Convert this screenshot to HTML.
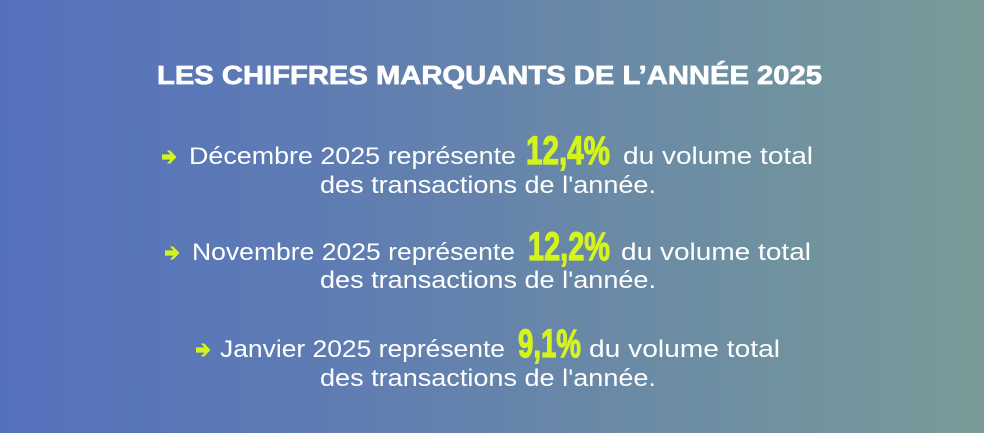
<!DOCTYPE html>
<html>
<head>
<meta charset="utf-8">
<style>
  html, body { margin:0; padding:0; }
  body { width:984px; height:433px; overflow:hidden;
    background: linear-gradient(90deg, #5571be 0%, #5d7bb4 30%, #6786a9 55%, #6f91a0 78%, #789b98 100%); }
  svg { display:block; }
  .t { font-family:"Liberation Sans", sans-serif; fill:#ffffff; }
  .title { font-weight:bold; font-size:26px; stroke:#ffffff; stroke-width:0.7px; }
  .body { font-size:24px; }
  .num { font-weight:bold; font-size:40px; fill:#d5f41c; stroke:#d5f41c; stroke-width:1.2px; }
</style>
</head>
<body>
<svg width="984" height="433" viewBox="0 0 984 433" xmlns="http://www.w3.org/2000/svg">
  <defs>
    <path id="arr" d="M0,-2.6 L8.5,-2.6 L4.8,-6.5 L8.2,-6.5 L14.5,0 L8.2,6.5 L4.8,6.5 L8.5,2.6 L0,2.6 Z" fill="#d5f41c"/>
  </defs>

  <text class="t title" x="157" y="84" textLength="665" lengthAdjust="spacingAndGlyphs">LES CHIFFRES MARQUANTS DE L’ANNÉE 2025</text>

  <!-- Block 1 -->
  <use href="#arr" x="162" y="157"/>
  <text class="t body" x="189" y="164" textLength="327" lengthAdjust="spacingAndGlyphs">Décembre 2025 représente</text>
  <text class="t num" x="526" y="164" textLength="84" lengthAdjust="spacingAndGlyphs">12,4%</text>
  <text class="t body" x="623" y="164" textLength="190" lengthAdjust="spacingAndGlyphs">du volume total</text>
  <text class="t body" x="320" y="193" textLength="336" lengthAdjust="spacingAndGlyphs">des transactions de l'année.</text>

  <!-- Block 2 -->
  <use href="#arr" x="165" y="253"/>
  <text class="t body" x="192" y="260" textLength="323" lengthAdjust="spacingAndGlyphs">Novembre 2025 représente</text>
  <text class="t num" x="528" y="260" textLength="82" lengthAdjust="spacingAndGlyphs">12,2%</text>
  <text class="t body" x="621" y="260" textLength="190" lengthAdjust="spacingAndGlyphs">du volume total</text>
  <text class="t body" x="320" y="288" textLength="336" lengthAdjust="spacingAndGlyphs">des transactions de l'année.</text>

  <!-- Block 3 -->
  <use href="#arr" x="196" y="350"/>
  <text class="t body" x="220" y="357" textLength="285" lengthAdjust="spacingAndGlyphs">Janvier 2025 représente</text>
  <text class="t num" x="518" y="357" textLength="63" lengthAdjust="spacingAndGlyphs">9,1%</text>
  <text class="t body" x="589" y="357" textLength="191" lengthAdjust="spacingAndGlyphs">du volume total</text>
  <text class="t body" x="320" y="386" textLength="336" lengthAdjust="spacingAndGlyphs">des transactions de l'année.</text>
</svg>
</body>
</html>
